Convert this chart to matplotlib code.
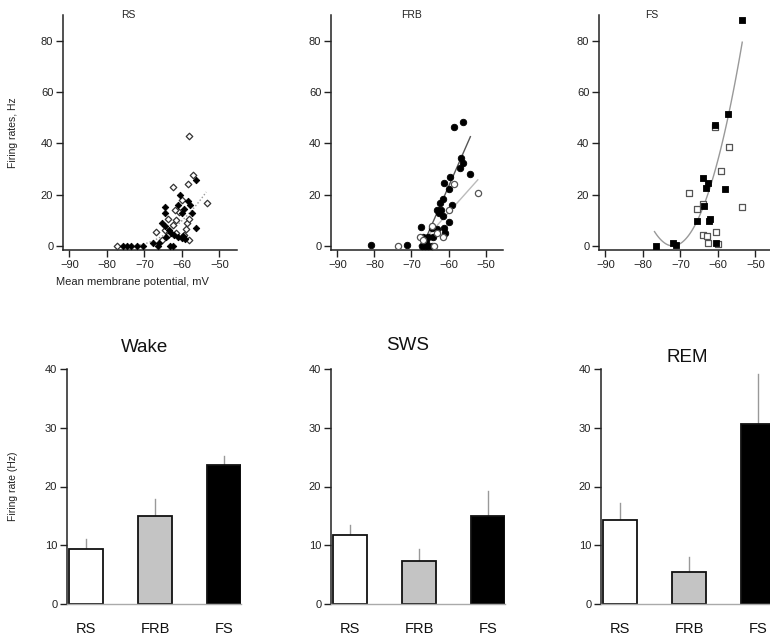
import numpy as np
import matplotlib
matplotlib.use("Agg")
import matplotlib.pyplot as plt
import matplotlib.transforms as mtransforms

plt.rcParams["font.family"] = ["Liberation Sans", "DejaVu Sans"]

# ---------------- scatter data: firing rate vs mean membrane potential ----------------
rs_open_v = [-77.3, -58.2, -57.0, -58.3, -53.2, -62.4, -59.9, -60.8, -61.9, -63.7,
             -61.7, -62.3, -58.7, -58.1, -59.0, -66.8, -64.4, -63.7, -61.6, -58.1,
             -59.5, -65.2]
rs_open_hz = [0.0, 43.0, 27.7, 24.0, 16.6, 23.1, 18.0, 13.4, 13.8, 10.4,
              10.1, 8.0, 8.8, 10.5, 6.5, 5.6, 6.2, 4.3, 4.9, 2.3,
              4.3, 2.3]
rs_fill_v = [-75.7, -74.6, -73.5, -72.1, -70.4, -67.7, -66.3, -64.4, -64.4, -60.5,
             -59.4, -58.3, -60.1, -57.9, -57.4, -56.2, -56.3, -65.2, -64.6, -63.5,
             -62.8, -62.1, -61.0, -60.1, -59.2, -59.8, -63.2, -62.3, -64.3, -66.1,
             -61.0]
rs_fill_hz = [0.0, 0.0, 0.0, 0.0, 0.0, 1.3, 0.0, 15.1, 12.7, 19.7,
              14.3, 17.5, 12.7, 16.0, 12.7, 25.7, 6.9, 9.1, 7.8, 6.2,
              5.2, 4.3, 3.6, 3.0, 2.6, 4.0, 0.0, 0.0, 3.4, 1.0,
              16.0]

frb_fill_v = [-81.0, -71.1, -67.5, -58.6, -56.2, -56.7, -56.2, -56.8, -54.1, -59.7,
              -61.2, -59.9, -62.3, -61.5, -59.1, -63.2, -62.5, -61.9, -61.4, -60.0,
              -61.1, -60.9, -63.2, -64.5, -65.4, -64.2, -66.8, -67.2, -66.3, -65.4,
              -64.5, -66.0]
frb_fill_hz = [0.4, 0.4, 7.5, 46.2, 48.1, 34.2, 32.5, 30.3, 28.1, 26.8,
               24.7, 22.3, 16.9, 18.2, 16.1, 13.8, 12.7, 13.8, 11.7, 9.5,
               6.9, 5.2, 6.5, 6.9, 3.4, 3.4, 3.4, 0.0, 0.0, 0.0,
               0.0, 1.7]
frb_open_v = [-73.5, -63.9, -67.8, -64.5, -58.6, -60.0, -61.5, -52.1, -66.8, -63.2]
frb_open_hz = [0.0, 0.0, 3.4, 7.8, 24.0, 13.8, 3.4, 20.5, 2.3, 5.0]

fs_fill_v = [-76.5, -72.1, -71.1, -53.5, -57.3, -60.7, -64.1, -62.6, -63.2, -58.1,
             -63.6, -65.6, -62.3, -62.0, -60.5]
fs_fill_hz = [0.0, 1.2, 0.5, 88.2, 51.5, 47.1, 26.3, 24.6, 22.7, 22.0,
              15.7, 9.7, 9.7, 10.4, 1.3]
fs_open_v = [-67.7, -65.6, -64.1, -60.7, -57.1, -59.1, -53.5, -60.6, -64.1, -63.0,
             -62.7, -60.0]
fs_open_hz = [20.5, 14.3, 16.2, 46.3, 38.7, 29.2, 15.2, 5.6, 4.2, 3.9,
              1.3, 0.6]

# fitted curves: quadratic y = a (v - v0)^2 over [v_start, v_end]; linear y = k (v - v0)
rs_fit = dict(a=0.05, v0=-74.0, v_start=-71.3, v_end=-53.5)
fs_fit = dict(a=0.232, v0=-72.0, v_start=-76.9, v_end=-53.5)
frb_fit_fill = dict(k=3.3, v0=-67.0, v_start=-67.0, v_end=-54.1)
frb_fit_open = dict(k=1.62, v0=-68.0, v_start=-68.0, v_end=-52.1)

# ---------------- bar data: mean firing rate per state ----------------
cell_types = ["RS", "FRB", "FS"]
states = ["Wake", "SWS", "REM"]
rate_mean = {"Wake": [9.3, 14.9, 23.7],
             "SWS": [11.7, 7.4, 14.9],
             "REM": [14.3, 5.4, 30.6]}
rate_sem = {"Wake": [1.8, 2.9, 1.5],
            "SWS": [1.7, 2.0, 4.4],
            "REM": [2.9, 2.6, 8.5]}
bar_colors = ["white", "#c4c4c4", "black"]

W, H = 770, 637
fig = plt.figure(figsize=(W / 100, H / 100), dpi=100)
fig.patch.set_facecolor("white")


def axes_px(left, top, right, bottom):
    return fig.add_axes([left / W, 1 - bottom / H, (right - left) / W, (bottom - top) / H])


TICK_FS = 8
AX_COLOR = "#222222"


def style_scatter_axes(ax):
    for s in ("top", "right"):
        ax.spines[s].set_visible(False)
    for s in ("left", "bottom"):
        ax.spines[s].set_color(AX_COLOR)
        ax.spines[s].set_linewidth(1.1)
    ax.set_xlim(-91.7, -45.3)
    ax.set_ylim(-1.6, 90)
    ax.set_xticks([-90, -80, -70, -60, -50])
    ax.set_xticklabels(["\u221290", "\u221280", "\u221270", "\u221260", "\u221250"])
    ax.set_yticks([0, 20, 40, 60, 80])
    ax.tick_params(direction="out", length=5, width=1, color=AX_COLOR,
                   labelsize=TICK_FS, labelcolor="#222222", pad=2)


# ---------------- top row: scatter plots ----------------
ax_rs = axes_px(63, 15, 237, 250)
ax_frb = axes_px(331, 15, 503, 250)
ax_fs = axes_px(599, 15, 773, 250)
for ax in (ax_rs, ax_frb, ax_fs):
    style_scatter_axes(ax)

# RS: diamonds
v = np.linspace(rs_fit["v_start"], rs_fit["v_end"], 60)
ax_rs.plot(v, rs_fit["a"] * (v - rs_fit["v0"]) ** 2, ls=(0, (1, 1.5)), color="#999999", lw=1)
ax_rs.scatter(rs_open_v, rs_open_hz, marker="D", s=11, facecolors="white",
              edgecolors="#333333", linewidths=0.9, zorder=3, clip_on=False)
ax_rs.scatter(rs_fill_v, rs_fill_hz, marker="D", s=11, facecolors="black",
              edgecolors="black", linewidths=0.6, zorder=3, clip_on=False)

# FRB: circles
for fit, col in ((frb_fit_fill, "#555555"), (frb_fit_open, "#bbbbbb")):
    v = np.linspace(fit["v_start"], fit["v_end"], 20)
    ax_frb.plot(v, fit["k"] * (v - fit["v0"]), color=col, lw=1)
ax_frb.scatter(frb_fill_v, frb_fill_hz, marker="o", s=22, facecolors="black",
               edgecolors="black", linewidths=0.6, zorder=3, clip_on=False)
ax_frb.scatter(frb_open_v, frb_open_hz, marker="o", s=20, facecolors="white",
               edgecolors="#555555", linewidths=0.9, zorder=3, clip_on=False)

# FS: squares
v = np.linspace(fs_fit["v_start"], fs_fit["v_end"], 80)
ax_fs.plot(v, fs_fit["a"] * (v - fs_fit["v0"]) ** 2, color="#999999", lw=1)
ax_fs.scatter(fs_open_v, fs_open_hz, marker="s", s=22, facecolors="white",
              edgecolors="#555555", linewidths=0.9, zorder=3, clip_on=False)
ax_fs.scatter(fs_fill_v, fs_fill_hz, marker="s", s=24, facecolors="black",
              edgecolors="black", linewidths=0.6, zorder=3, clip_on=False)

for ax, name, xf in ((ax_rs, "RS", 0.374), (ax_frb, "FRB", 0.47), (ax_fs, "FS", 0.305)):
    ax.text(xf, 1.0, name, transform=ax.transAxes, ha="center", va="center",
            fontsize=7.5, color="#222222")

ax_rs.set_xlabel("Mean membrane potential, mV", fontsize=8, color="#222222", labelpad=1)
ax_rs.xaxis.set_label_coords(0.40, -0.115)
ax_rs.set_ylabel("Firing rates, Hz", fontsize=7.5, color="#222222")
ax_rs.yaxis.set_label_coords(-0.26, 0.5)

# ---------------- bottom row: bar charts ----------------
bar_lefts = {"Wake": 67, "SWS": 331, "REM": 601}
title_pos = {"Wake": (0.448, 347), "SWS": (0.44, 345), "REM": (0.494, 358)}
x = np.arange(len(cell_types))
for st in states:
    ax = axes_px(bar_lefts[st], 369, bar_lefts[st] + 174, 604)
    means = rate_mean[st]
    ax.bar(x, means, width=0.49, color=bar_colors, edgecolor="#111111", linewidth=1.3, zorder=2)
    for xi, m, e in zip(x, means, rate_sem[st]):
        ax.plot([xi, xi], [m, m + e], color="#999999", lw=1, zorder=1)
    ax.set_xlim(-0.28, 2.25)
    ax.set_ylim(0, 40)
    for s in ("top", "right"):
        ax.spines[s].set_visible(False)
    ax.spines["left"].set_color(AX_COLOR)
    ax.spines["left"].set_linewidth(1.1)
    ax.spines["bottom"].set_color("#aaaaaa")
    ax.spines["bottom"].set_linewidth(1)
    ax.set_yticks([0, 10, 20, 30, 40])
    ax.tick_params(axis="y", direction="out", length=5, width=1, color=AX_COLOR,
                   labelsize=TICK_FS, labelcolor="#222222", pad=2)
    ax.set_xticks(x)
    ax.set_xticklabels(cell_types)
    ax.tick_params(axis="x", length=0, labelsize=10.5, labelcolor="#111111", pad=13)
    xf, ty = title_pos[st]
    fig.text((bar_lefts[st] + xf * 174) / W, 1 - ty / H, st, ha="center", va="center",
             fontsize=13.5, color="#111111")
    if st == "Wake":
        ax.set_ylabel("Firing rate (Hz)", fontsize=7.5, color="#222222")
        ax.yaxis.set_label_coords(-0.28, 0.5)

fig.savefig("out.png", dpi=100, facecolor="white")
